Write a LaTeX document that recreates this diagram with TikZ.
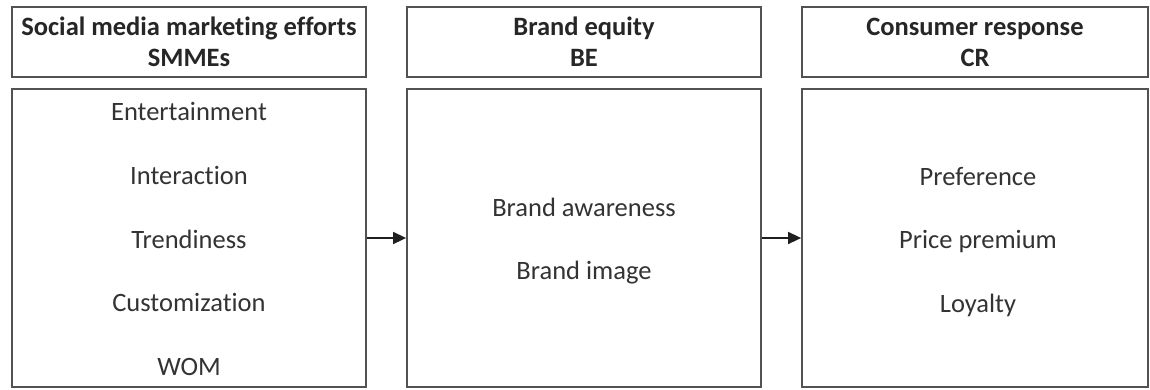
\documentclass[tikz,border=0pt]{standalone}
\usepackage{fontspec}
\setmainfont{Carlito}[Ligatures=NoCommon]
\usetikzlibrary{arrows.meta}
\begin{document}
\begin{tikzpicture}[x=1pt,y=-1pt,
  box/.style={draw=black!68, line width=1.8pt, fill=white, inner sep=0pt},
  head/.style={box, font=\bfseries\fontsize{26.5}{31}\selectfont, align=center, text=black!85},
  body/.style={box, minimum height=298pt},
  item/.style={anchor=base, font=\fontsize{26.5}{30}\selectfont, text=black!80},
  flow/.style={-{Triangle[length=13pt,width=12pt]}, line width=1.6pt, draw=black!88}]
\useasboundingbox (0,0) rectangle (1150,389);

% column headers
\node[head, minimum width=354pt, minimum height=70pt] (h1) at (189,42) {Social media marketing efforts\\SMMEs};
\node[head, minimum width=354pt, minimum height=70pt] (h2) at (584,42) {Brand equity\\BE};
\node[head, minimum width=346pt, minimum height=70pt] (h3) at (975,42) {Consumer response\\CR};

% column bodies
\node[body, minimum width=354pt] (b1) at (189,238) {};
\node[body, minimum width=354pt] (b2) at (584,238) {};
\node[body, minimum width=346pt] (b3) at (975,238) {};

% SMMEs dimensions
\node[item] (s1) at (189,120) {Entertainment};
\node[item] (s2) at (189,184) {Interaction};
\node[item] (s3) at (189,248) {Trendiness};
\node[item] (s4) at (189,311) {Customization};
\node[item] (s5) at (189,375) {WOM};

% brand equity dimensions
\node[item] (e1) at (584,216) {Brand awareness};
\node[item] (e2) at (584,279) {Brand image};

% consumer response dimensions
\node[item] (c1) at (978,185) {Preference};
\node[item] (c2) at (978,248) {Price premium};
\node[item] (c3) at (978,312) {Loyalty};

% flow between the columns
\draw[flow] (b1.east) -- (b2.west);
\draw[flow] (b2.east) -- (b3.west);
\end{tikzpicture}
\end{document}
